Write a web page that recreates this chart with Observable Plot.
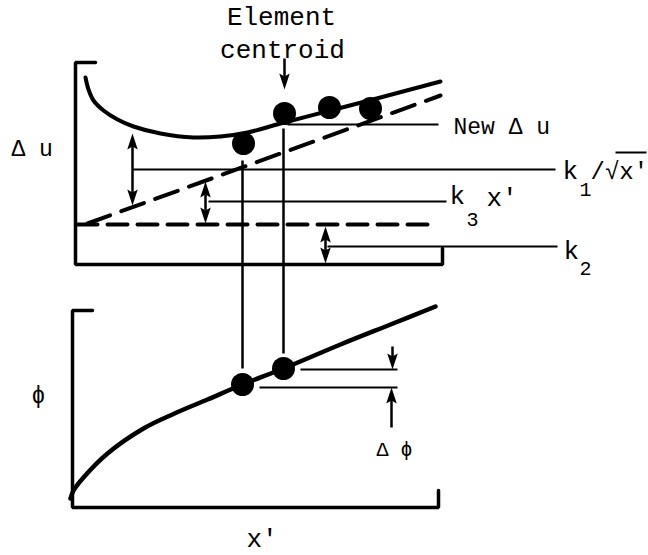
<!DOCTYPE html>
<html><head><meta charset="utf-8">
<script src="https://cdn.jsdelivr.net/npm/d3@7"></script>
<script src="https://cdn.jsdelivr.net/npm/@observablehq/plot@0.6"></script>
<style>html,body{margin:0;padding:0;background:#fff}svg{display:block}</style>
</head><body><div id="chart"></div>
<script>
// Schematic, in a 648 × 555 frame (x rightward, y downward)
const deltaUCurve = [[85,77],[88,89],[93,100],[103,110],[117,119],[133,126],[160,133],[193,137],[220,136],[247,132],[280,123],[330,110],[380,97],[440,81]];
const k3Line = [[87,223],[440,95]];
const k2Line = [[77,224],[430,224]];
const phiCurve = [[70,498],[73,490],[83,477],[107,453],[143,428],[174,413],[207,399],[242,384],[283,368],[340,344],[390,324],[435,306]];
const upperPoints = [[243,143],[284,113],[329,107],[370,108]];
const lowerPoints = [[242,384],[283,368]];
const upperFrame = [[95,62],[75,62],[75,264],[442,264],[442,248]];
const lowerFrame = [[92,310],[72,310],[72,507],[438,507],[438,490]];
const leaders = [[287,124,438,124],[132,169,555,169],[208,201,446,201],[327,246,557,246],[300,369,397,369],[259,387,397,387],[615,152,646,152]];
const drops = [[242,160,242,368],[283,128,283,353]];
const shafts = [[284,58,284,78],[132,145,132,193],[205,194,205,210],[325,238,325,251],[392,346,392,360],[391,427,391,398]];
const headsUp = [[132,133],[205,181],[325,226],[391,387]];
const headsDown = [[284,89],[132,205],[205,223],[325,263],[392,369]];
const titleLabels = [
  {text:"Element", x:281, y:24},
  {text:"centroid", x:282, y:57}
];
const bigLabels = [
  {text:"k", x:562, y:178},
  {text:"k", x:449, y:203},
  {text:"x'", x:486, y:205},
  {text:"k", x:563, y:258},
  {text:"x'", x:246, y:546}
];
const rootLabels = [{text:"/√x'", x:590, y:178}];
const midLabels = [
  {text:"New Δ u", x:453, y:133},
  {text:"Δ u", x:11, y:155},
  {text:"ϕ", x:31, y:402}
];
const subLabels = [
  {text:"1", x:579, y:195},
  {text:"3", x:466, y:225},
  {text:"2", x:579, y:274},
  {text:"Δ ϕ", x:376, y:455}
];

const head = {draw(ctx, size) {
  const k = Math.sqrt(size / Math.PI);
  ctx.moveTo(0, 0);
  ctx.lineTo(1.05 * k, 3.2 * k);
  ctx.lineTo(0, 2.6 * k);
  ctx.lineTo(-1.05 * k, 3.2 * k);
  ctx.closePath();
}};
const font = "Liberation Mono, DejaVu Sans Mono, monospace";
const X = d => d[0], Y = d => d[1];
const seg = {x1: d => d[0], y1: d => d[1], x2: d => d[2], y2: d => d[3], stroke: "black"};
const txt = {x: "x", y: "y", text: "text", lineAnchor: "bottom", fontFamily: font, fill: "black"};

const chart = Plot.plot({
  width: 648, height: 555,
  margin: 0,
  x: {domain: [0, 648], range: [0, 648], axis: null},
  y: {domain: [0, 555], range: [0, 555], axis: null},
  style: {background: "white"},
  marks: [
    Plot.line(upperFrame, {x: X, y: Y, stroke: "black", strokeWidth: 3.5, strokeLinejoin: "miter"}),
    Plot.line(lowerFrame, {x: X, y: Y, stroke: "black", strokeWidth: 3.5, strokeLinejoin: "miter"}),
    Plot.line(k2Line, {x: X, y: Y, stroke: "black", strokeWidth: 4, strokeDasharray: "20,10"}),
    Plot.line(k3Line, {x: X, y: Y, stroke: "black", strokeWidth: 4, strokeDasharray: "24,12"}),
    Plot.line(deltaUCurve, {x: X, y: Y, stroke: "black", strokeWidth: 4, curve: "catmull-rom"}),
    Plot.line(phiCurve, {x: X, y: Y, stroke: "black", strokeWidth: 4.5, curve: "catmull-rom"}),
    Plot.link(leaders, {...seg, strokeWidth: 2}),
    Plot.link(drops, {...seg, strokeWidth: 2.5}),
    Plot.link(shafts, {...seg, strokeWidth: 2.5}),
    Plot.dot(headsUp, {x: X, y: Y, symbol: head, r: 5, fill: "black", stroke: "none"}),
    Plot.dot(headsDown, {x: X, y: Y, symbol: head, r: 5, fill: "black", stroke: "none", rotate: 180}),
    Plot.dot(upperPoints, {x: X, y: Y, r: 11.5, fill: "black", stroke: "none"}),
    Plot.dot(lowerPoints, {x: X, y: Y, r: 11.5, fill: "black", stroke: "none"}),
    Plot.text(titleLabels, {...txt, textAnchor: "middle", fontSize: 26}),
    Plot.text(bigLabels, {...txt, textAnchor: "start", fontSize: 26}),
    Plot.text(rootLabels, {...txt, textAnchor: "start", fontSize: 24}),
    Plot.text(midLabels, {...txt, textAnchor: "start", fontSize: 23}),
    Plot.text(subLabels, {...txt, textAnchor: "start", fontSize: 20})
  ]
});
document.getElementById("chart").appendChild(chart);
</script>
</body></html>
